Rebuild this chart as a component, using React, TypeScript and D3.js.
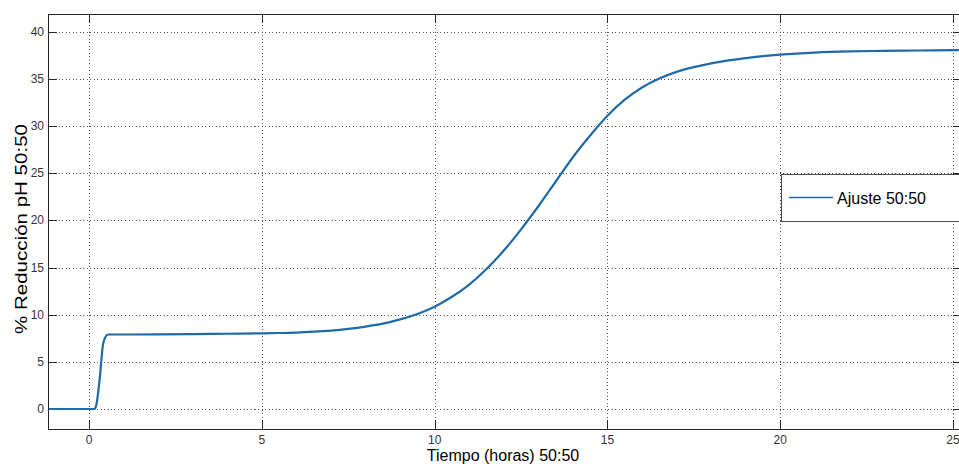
import React from 'react';
import * as d3 from 'd3';

// values
const timeH = [-1.19, 0, 0.15, 0.2, 0.3, 0.4, 0.47, 0.55, 1, 2, 3, 4, 5, 5.5, 6, 6.5, 7, 7.5, 8, 8.5, 9, 9.5, 10, 10.5, 11, 11.5, 12, 12.5, 13, 13.5, 14, 14.5, 15, 15.5, 16, 16.5, 17, 17.5, 18, 18.5, 19, 19.5, 20, 21, 22, 23, 24, 25, 25.3];
const reduction = [0, 0, 0, 0.3, 3, 6.8, 7.6, 7.9, 7.9, 7.92, 7.95, 7.98, 8.03, 8.06, 8.11, 8.2, 8.32, 8.5, 8.74, 9.05, 9.5, 10.08, 10.85, 11.9, 13.2, 14.85, 16.8, 19.05, 21.5, 24.1, 26.7, 29.0, 31.1, 32.8, 34.1, 35.05, 35.75, 36.25, 36.65, 36.97, 37.22, 37.42, 37.58, 37.8, 37.92, 37.98, 38.02, 38.05, 38.05];

const xTicks = [0, 5, 10, 15, 20, 25];
const yTicks = [0, 5, 10, 15, 20, 25, 30, 35, 40];
const seriesName = 'Ajuste 50:50';

const W = 959;
const H = 466;
const box = { left: 48, right: 962, top: 14, bottom: 429 };
const font = '"Liberation Sans", Arial, sans-serif';
const tickLen = 9;
const blue = '#1f6aa8';

const App = () => {
  const x = d3.scaleLinear().domain([-1.19, 25.26]).range([box.left, box.right]);
  const y = d3.scaleLinear().domain([-2.12, 41.89]).range([box.bottom, box.top]);

  const data = timeH.map((t, i) => ({ t, v: reduction[i] }));
  const line = d3.line<{ t: number; v: number }>()
    .x(d => x(d.t))
    .y(d => y(d.v))
    .curve(d3.curveMonotoneX);

  const px = (v: number) => Math.round(v) + 0.5;

  return (
    <svg width={W} height={H} style={{ position: 'absolute', left: 0, top: 0, background: '#fff' }}>
      <defs>
        <clipPath id="plot-clip">
          <rect x={box.left} y={box.top} width={box.right - box.left} height={box.bottom - box.top} />
        </clipPath>
      </defs>

      {/* grid */}
      <g stroke="#555" strokeWidth={1} strokeDasharray="1,2.5" shapeRendering="crispEdges">
        {xTicks.map(t => (
          <line key={'gx' + t} x1={px(x(t))} x2={px(x(t))} y1={box.top} y2={box.bottom} />
        ))}
        {yTicks.map(t => (
          <line key={'gy' + t} x1={box.left} x2={box.right} y1={px(y(t))} y2={px(y(t))} />
        ))}
      </g>

      {/* ticks, inside on all four sides */}
      <g stroke="#262626" strokeWidth={1} shapeRendering="crispEdges">
        {xTicks.map(t => (
          <g key={'tx' + t}>
            <line x1={px(x(t))} x2={px(x(t))} y1={box.bottom} y2={box.bottom - tickLen} />
            <line x1={px(x(t))} x2={px(x(t))} y1={box.top} y2={box.top + tickLen} />
          </g>
        ))}
        {yTicks.map(t => (
          <g key={'ty' + t}>
            <line x1={box.left} x2={box.left + tickLen} y1={px(y(t))} y2={px(y(t))} />
            <line x1={box.right} x2={box.right - tickLen} y1={px(y(t))} y2={px(y(t))} />
          </g>
        ))}
      </g>

      {/* data */}
      <path d={line(data) ?? ''} fill="none" stroke={blue} strokeWidth={2.2} strokeLinejoin="round" clipPath="url(#plot-clip)" />

      {/* axes box */}
      <rect x={box.left + 0.5} y={box.top + 0.5} width={box.right - box.left} height={box.bottom - box.top}
        fill="none" stroke="#262626" strokeWidth={1} shapeRendering="crispEdges" />

      {/* tick labels */}
      <g fontFamily={font} fontSize={12} fill="#333">
        {xTicks.map(t => (
          <text key={'lx' + t} x={x(t)} y={box.bottom + 15} textAnchor="middle">{t}</text>
        ))}
        {yTicks.map(t => (
          <text key={'ly' + t} x={box.left - 4} y={y(t) + 4} textAnchor="end">{t}</text>
        ))}
      </g>

      {/* axis labels */}
      <text x={503} y={461} textAnchor="middle" fontFamily={font} fontSize={16} fill="#000">Tiempo (horas) 50:50</text>
      <text transform="translate(27,229) rotate(-90)" textAnchor="middle" fontFamily={font} fontSize={16.5}
        textLength={210} lengthAdjust="spacingAndGlyphs" fill="#000">% Reducción pH 50:50</text>

      {/* legend */}
      <g>
        <rect x={781.5} y={174.5} width={200} height={47} fill="#fff" stroke="#4a4a4a" strokeWidth={1} shapeRendering="crispEdges" />
        <line x1={789} x2={833} y1={197.5} y2={197.5} stroke={blue} strokeWidth={1.6} />
        <text x={837} y={203.5} fontFamily={font} fontSize={16} fill="#000">{seriesName}</text>
      </g>
    </svg>
  );
};

export default App;
